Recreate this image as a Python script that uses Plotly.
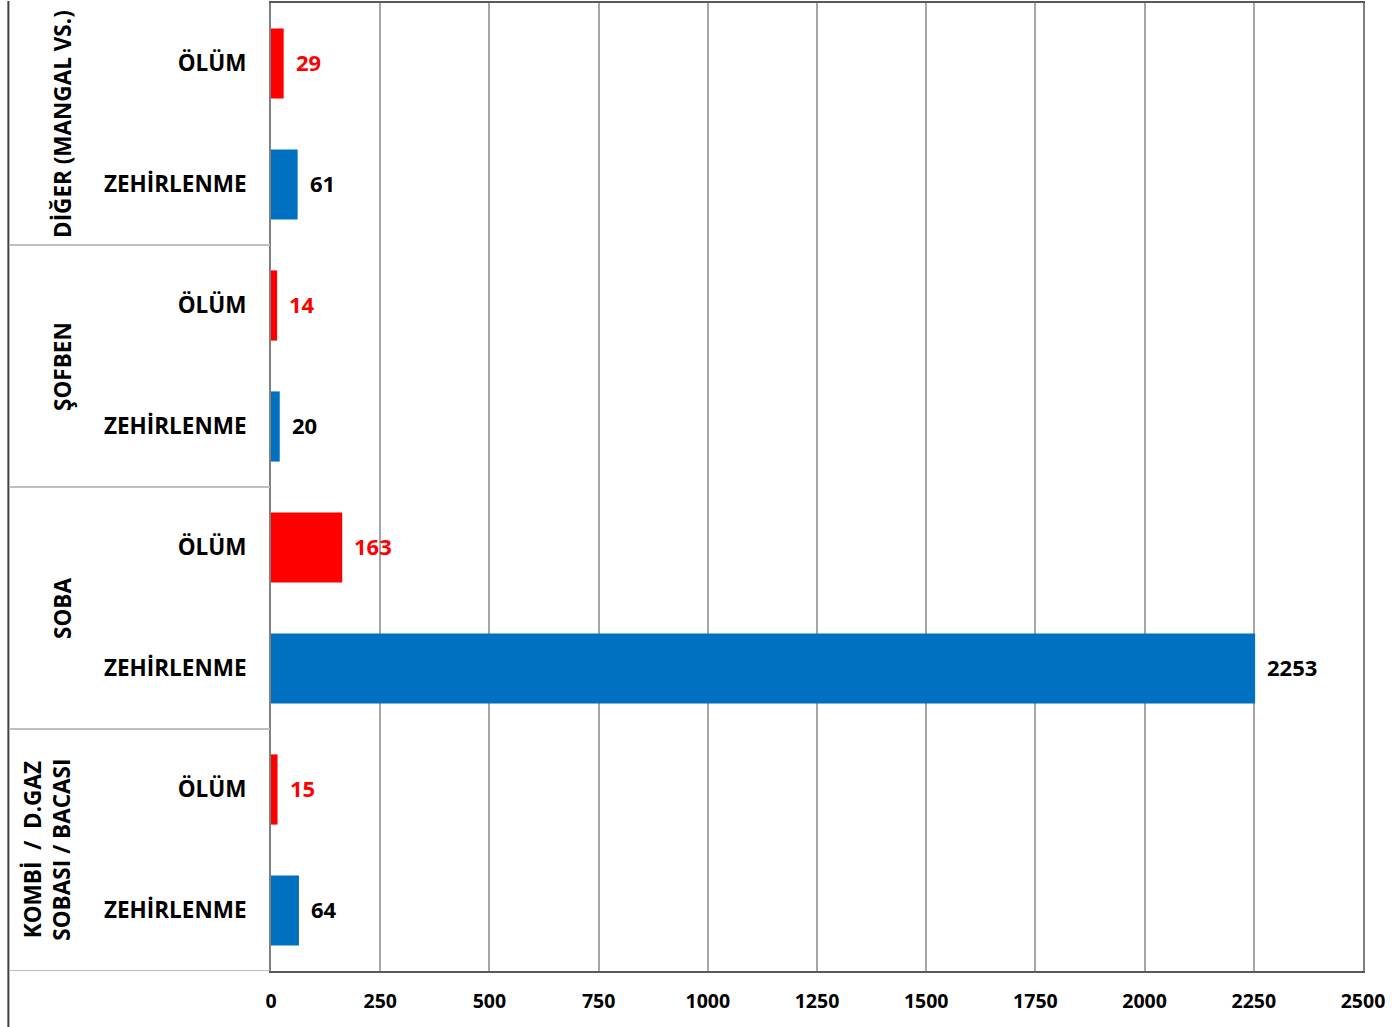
import plotly.graph_objects as go

groups = ["DİĞER (MANGAL VS.)", "ŞOFBEN", "SOBA", "KOMBİ  /  D.GAZ<br>SOBASI / BACASI"]
sub_labels = ["ÖLÜM", "ZEHİRLENME"]
deaths = [29, 14, 163, 15]
poisonings = [61, 20, 2253, 64]
x_ticks = [0, 250, 500, 750, 1000, 1250, 1500, 1750, 2000, 2250, 2500]

RED = "#FF0000"
BLUE = "#0070C0"
FONT = "Open Sans"

ypos, vals, cols, ticktext, txtcols = [], [], [], [], []
for i, g in enumerate(groups):
    ypos += [2 * i, 2 * i + 1]
    vals += [deaths[i], poisonings[i]]
    cols += [RED, BLUE]
    txtcols += [RED, "#000000"]
    ticktext += sub_labels

fig = go.Figure()
fig.add_trace(go.Bar(
    x=vals, y=ypos, orientation="h",
    marker=dict(color=cols, line=dict(width=0)),
    width=0.58, hoverinfo="x",
))

annotations = []
for yv, v, c in zip(ypos, vals, txtcols):
    annotations.append(dict(
        x=v, y=yv, xref="x", yref="y", text=str(v), showarrow=False,
        xanchor="left", xshift=10, yshift=2,
        font=dict(family=FONT, size=22, color=c, weight="bold"),
    ))

label_x = -0.1914
for i, g in enumerate(groups):
    annotations.append(dict(
        x=label_x if "<br>" not in g else label_x - 0.014, y=2 * i + 0.5,
        xref="paper", yref="y", text=g, showarrow=False,
        textangle=-90, xanchor="center", yanchor="middle",
        font=dict(family=FONT, size=22.5, color="#000000", weight="bold"),
    ))

shapes = []
for k in range(1, len(groups) + 1):
    shapes.append(dict(
        type="line", xref="paper", yref="y",
        x0=-0.239, x1=-0.001, y0=2 * k - 0.5, y1=2 * k - 0.5,
        line=dict(color="#BFBFBF", width=2),
    ))
shapes.append(dict(
    type="line", xref="paper", yref="paper",
    x0=-0.2405, x1=-0.2405, y0=-0.06, y1=1.002,
    line=dict(color="#404040", width=2),
))

fig.update_layout(
    width=1395, height=1027,
    margin=dict(l=271, r=32, t=1, b=56),
    paper_bgcolor="white", plot_bgcolor="white",
    showlegend=False,
    annotations=annotations, shapes=shapes,
    font=dict(family=FONT, color="#000000"),
    bargap=0.42,
)
fig.update_xaxes(
    range=[0, 2500], tickvals=x_ticks, ticktext=[str(t) for t in x_ticks],
    showgrid=True, gridcolor="#A6A6A6", gridwidth=1.5,
    showline=True, linecolor="#595959", linewidth=2, mirror=True,
    ticks="outside", ticklen=12, tickcolor="rgba(0,0,0,0)",
    tickfont=dict(family=FONT, size=19.5, color="#000000", weight="bold"),
    zeroline=False,
)
fig.update_yaxes(
    range=[7.5, -0.5], tickvals=ypos, ticktext=ticktext,
    showgrid=False, showline=True, linecolor="#808080", linewidth=2, mirror=True,
    ticks="outside", ticklen=18, tickcolor="rgba(0,0,0,0)",
    tickfont=dict(family=FONT, size=22.5, color="#000000", weight="bold"),
    zeroline=False,
)
fig.write_html(
    "out.html",
    config={"displayModeBar": False},
    post_script="document.body.style.margin='0';document.body.style.overflow='hidden';",
)
